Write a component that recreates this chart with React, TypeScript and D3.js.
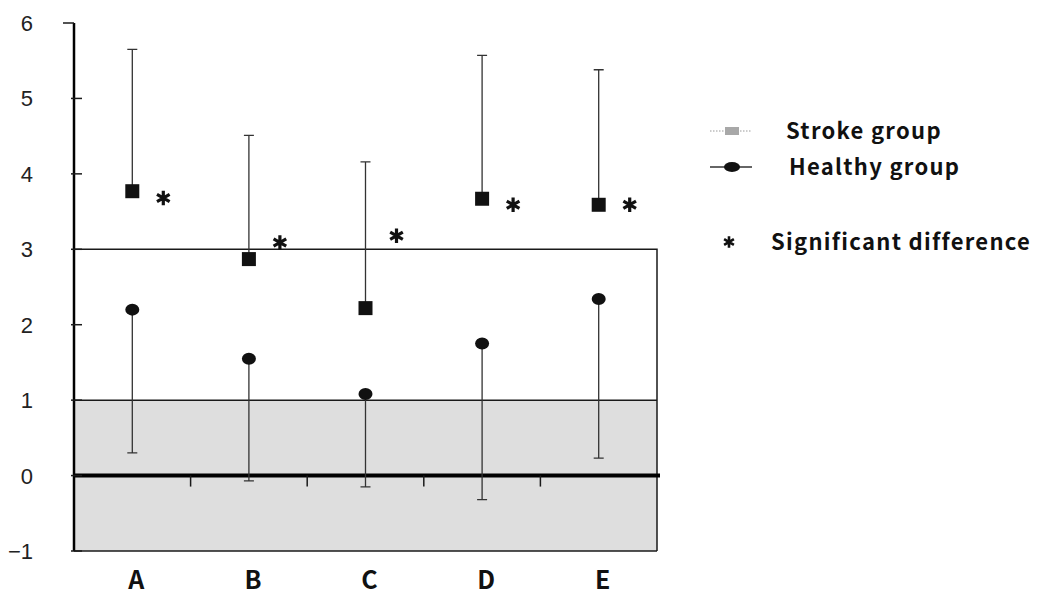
import React, { useEffect, useRef } from 'react';
import * as d3 from 'd3';

// categories and values
const categories = ['A', 'B', 'C', 'D', 'E'];
const strokeMean = [3.77, 2.87, 2.22, 3.67, 3.59];
const strokeUpper = [5.65, 4.51, 4.16, 5.57, 5.38];
const healthyMean = [2.2, 1.55, 1.08, 1.75, 2.34];
const healthyLower = [0.3, -0.07, -0.15, -0.32, 0.23];
const significantAt = [3.68, 3.09, 3.18, 3.59, 3.59];
const yTicks = [-1, 0, 1, 2, 3, 4, 5, 6];
const legendLabels = ['Stroke group', 'Healthy group', 'Significant difference'];

const W = 1046;
const H = 598;

const App = () => {
    const ref = useRef<SVGSVGElement>(null);

    useEffect(() => {
        const svg = d3.select(ref.current);
        svg.selectAll('*').remove();

        const left = 74;
        const right = 657;
        const x = d3.scaleBand().domain(categories).range([left, right]);
        const y = d3.scaleLinear().domain([-1, 6]).range([551, 23]);
        const cx = (i: number) => (x(categories[i]) as number) + x.bandwidth() / 2;
        const ink = '#1a1a1a';
        const labelFont = '"Noto Sans CJK JP", "Noto Sans", sans-serif';

        // shaded band between -1 and 1
        svg.append('rect')
            .attr('x', left)
            .attr('y', y(1))
            .attr('width', right - left)
            .attr('height', y(-1) - y(1))
            .attr('fill', '#dedede');

        svg.append('line')
            .attr('x1', left).attr('x2', right)
            .attr('y1', y(1)).attr('y2', y(1))
            .attr('stroke', ink).attr('stroke-width', 1.5);
        svg.append('line')
            .attr('x1', left).attr('x2', right)
            .attr('y1', y(-1)).attr('y2', y(-1))
            .attr('stroke', ink).attr('stroke-width', 1.5);

        // box from 3 down to -1
        svg.append('path')
            .attr('d', `M${left},${y(3)}H${right}V${y(-1)}`)
            .attr('fill', 'none')
            .attr('stroke', ink)
            .attr('stroke-width', 1.5);

        // zero line
        svg.append('line')
            .attr('x1', left).attr('x2', right + 3)
            .attr('y1', y(0)).attr('y2', y(0))
            .attr('stroke', '#000').attr('stroke-width', 4);

        // category separators on the zero line
        svg.selectAll('.sep')
            .data(categories.slice(1))
            .enter().append('line')
            .attr('x1', d => x(d) as number)
            .attr('x2', d => x(d) as number)
            .attr('y1', y(0))
            .attr('y2', y(0) + 11)
            .attr('stroke', ink)
            .attr('stroke-width', 1.5);

        // y axis
        svg.append('line')
            .attr('x1', left).attr('x2', left)
            .attr('y1', y(6)).attr('y2', y(-1))
            .attr('stroke', '#000').attr('stroke-width', 2.5);

        svg.selectAll('.ytick')
            .data(yTicks)
            .enter().append('line')
            .attr('x1', d => (d === 6 ? left - 11 : left - 3))
            .attr('x2', d => (d === 6 ? left : left + 8))
            .attr('y1', d => y(d))
            .attr('y2', d => y(d))
            .attr('stroke', ink)
            .attr('stroke-width', 1.5);

        svg.selectAll('.ylab')
            .data(yTicks)
            .enter().append('text')
            .attr('x', 33)
            .attr('y', d => y(d) + 8)
            .attr('text-anchor', 'end')
            .attr('font-family', '"Liberation Sans", Arial, sans-serif')
            .attr('font-size', 22)
            .attr('fill', '#222')
            .text(d => (d < 0 ? '\u2212' + Math.abs(d) : String(d)));

        // x labels
        svg.selectAll('.xlab')
            .data(categories)
            .enter().append('text')
            .attr('x', (d, i) => cx(i) + 4)
            .attr('y', 589)
            .attr('text-anchor', 'middle')
            .attr('font-family', labelFont)
            .attr('font-weight', 700)
            .attr('font-size', 25)
            .attr('fill', '#111')
            .text(d => d);

        const cap = 5;

        // stroke group: error bar up, square marker
        svg.selectAll('.sbar')
            .data(categories)
            .enter().append('path')
            .attr('d', (d, i) => `M${cx(i)},${y(strokeMean[i])}V${y(strokeUpper[i])}M${cx(i) - cap},${y(strokeUpper[i])}H${cx(i) + cap}`)
            .attr('fill', 'none')
            .attr('stroke', '#333')
            .attr('stroke-width', 1.3);

        svg.selectAll('.smark')
            .data(categories)
            .enter().append('rect')
            .attr('x', (d, i) => cx(i) - 7)
            .attr('y', (d, i) => y(strokeMean[i]) - 7)
            .attr('width', 14)
            .attr('height', 14)
            .attr('fill', '#111');

        // healthy group: error bar down, round marker
        svg.selectAll('.hbar')
            .data(categories)
            .enter().append('path')
            .attr('d', (d, i) => `M${cx(i)},${y(healthyMean[i])}V${y(healthyLower[i])}M${cx(i) - cap},${y(healthyLower[i])}H${cx(i) + cap}`)
            .attr('fill', 'none')
            .attr('stroke', '#333')
            .attr('stroke-width', 1.3);

        svg.selectAll('.hmark')
            .data(categories)
            .enter().append('ellipse')
            .attr('cx', (d, i) => cx(i))
            .attr('cy', (d, i) => y(healthyMean[i]))
            .attr('rx', 7)
            .attr('ry', 6)
            .attr('fill', '#111');

        // significance stars
        const star = d3.symbol().type(d3.symbolAsterisk).size(150);
        svg.selectAll('.star')
            .data(categories)
            .enter().append('path')
            .attr('transform', (d, i) => `translate(${cx(i) + 31},${y(significantAt[i])})`)
            .attr('d', star)
            .attr('fill', 'none')
            .attr('stroke', '#111')
            .attr('stroke-width', 3.2);

        // legend
        const lg = svg.append('g');
        const rows = [131, 167, 242];

        lg.append('line')
            .attr('x1', 710).attr('x2', 752)
            .attr('y1', rows[0]).attr('y2', rows[0])
            .attr('stroke', '#999')
            .attr('stroke-width', 1)
            .attr('stroke-dasharray', '1.5,1.5');
        lg.append('rect')
            .attr('x', 725).attr('y', rows[0] - 4)
            .attr('width', 14).attr('height', 8)
            .attr('fill', '#a8a8a8');

        lg.append('line')
            .attr('x1', 710).attr('x2', 752)
            .attr('y1', rows[1]).attr('y2', rows[1])
            .attr('stroke', '#333')
            .attr('stroke-width', 1.3);
        lg.append('ellipse')
            .attr('cx', 732).attr('cy', rows[1])
            .attr('rx', 8).attr('ry', 5)
            .attr('fill', '#111');

        lg.append('path')
            .attr('transform', `translate(729,${rows[2]})`)
            .attr('d', d3.symbol().type(d3.symbolAsterisk).size(90)())
            .attr('fill', 'none')
            .attr('stroke', '#111')
            .attr('stroke-width', 2.6);

        lg.selectAll('text')
            .data(legendLabels)
            .enter().append('text')
            .attr('x', (d, i) => [786, 789, 771][i])
            .attr('y', (d, i) => rows[i] + 8)
            .attr('font-family', labelFont)
            .attr('font-weight', 700)
            .attr('font-size', 22)
            .attr('letter-spacing', 1.3)
            .attr('fill', '#111')
            .text(d => d);
    }, []);

    return (
        <svg
            ref={ref}
            width={W}
            height={H}
            style={{ position: 'absolute', left: 0, top: 0, background: '#fff' }}
        />
    );
};

export default App;
